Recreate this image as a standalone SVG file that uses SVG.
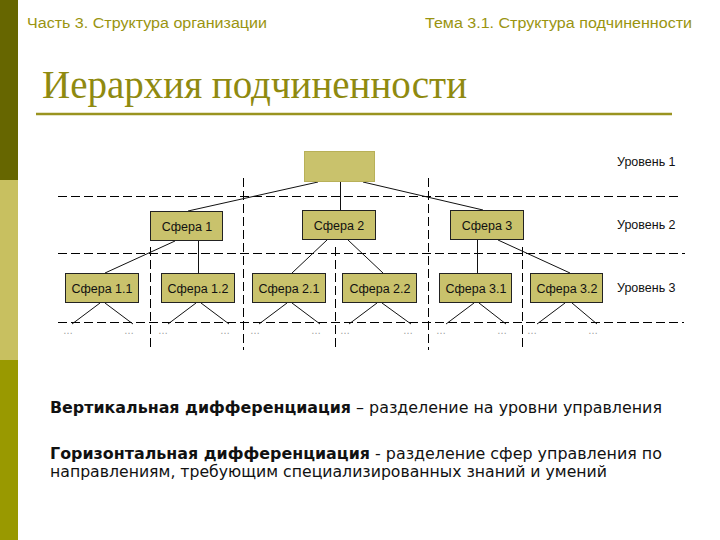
<svg xmlns="http://www.w3.org/2000/svg" width="720" height="540" viewBox="0 0 720 540">
<style>
.hdr{font-family:"Liberation Sans",Arial,sans-serif;font-size:14px;fill:#9A9410}
.ttl{font-family:"Liberation Serif","Times New Roman",serif;font-size:39px;fill:#8F8A10}
.box{fill:#C9C26C;stroke:#222;stroke-width:1}
.top{fill:#C9C26C;stroke:#B8B058;stroke-width:1}
.lbl{font-family:"Liberation Sans",Arial,sans-serif;font-size:12.5px;fill:#111;text-anchor:middle}
.lvl{font-family:"Liberation Sans",Arial,sans-serif;font-size:12.5px;fill:#111}
.dots{font-family:"Liberation Sans",Arial,sans-serif;font-size:10px;fill:#999}
.dash{stroke:#000;stroke-width:1;stroke-dasharray:9,4;fill:none}
.ln{stroke:#111;stroke-width:1;fill:none}
.txt{font-family:"DejaVu Sans",Tahoma,sans-serif;font-size:15.5px;fill:#111}
.b{font-weight:bold}
</style>
<rect x="0" y="0" width="720" height="540" fill="#fff"/>
<rect x="0" y="0" width="18" height="180" fill="#666600"/>
<rect x="0" y="180" width="18" height="180" fill="#C8C060"/>
<rect x="0" y="360" width="18" height="180" fill="#999900"/>
<text class="hdr" x="27" y="28" textLength="240" lengthAdjust="spacingAndGlyphs">Часть 3. Структура организации</text>
<text class="hdr" x="425" y="28" textLength="267" lengthAdjust="spacingAndGlyphs">Тема 3.1. Структура подчиненности</text>
<text class="ttl" x="42" y="98">Иерархия подчиненности</text>
<line x1="36" y1="114" x2="672" y2="114" stroke="#9A9420" stroke-width="2.5"/>
<g id="grid">
<line class="dash" x1="58" y1="196.5" x2="678" y2="196.5"/>
<line class="dash" x1="58" y1="253.5" x2="685" y2="253.5"/>
<line class="dash" x1="58" y1="322.5" x2="684" y2="322.5"/>
<line class="dash" x1="243.5" y1="178" x2="243.5" y2="350"/>
<line class="dash" x1="428.5" y1="178" x2="428.5" y2="350"/>
<line class="dash" x1="150.5" y1="247" x2="150.5" y2="350"/>
<line class="dash" x1="335.5" y1="247" x2="335.5" y2="350"/>
<line class="dash" x1="522.5" y1="247" x2="522.5" y2="350"/>
</g>
<g id="connectors">
<line class="ln" x1="318" y1="182" x2="188" y2="211"/>
<line class="ln" x1="340.5" y1="182" x2="340.5" y2="210"/>
<line class="ln" x1="363" y1="182" x2="483" y2="210"/>
<line class="ln" x1="175" y1="241" x2="105" y2="273"/>
<line class="ln" x1="198.5" y1="241" x2="198.5" y2="273"/>
<line class="ln" x1="327" y1="240" x2="292" y2="273"/>
<line class="ln" x1="348" y1="240" x2="383" y2="273"/>
<line class="ln" x1="477.5" y1="240" x2="477.5" y2="273"/>
<line class="ln" x1="498" y1="240" x2="570" y2="273"/>
<path class="ln" d="M100 303L72 324M105 303L133 324"/>
<path class="ln" d="M196 303L168 324M201 303L229 324"/>
<path class="ln" d="M287 303L259 324M292 303L320 324"/>
<path class="ln" d="M377 303L349 324M382 303L411 324"/>
<path class="ln" d="M474 303L446 324M479 303L506 324"/>
<path class="ln" d="M565 303L537 324M572 303L597 324"/>
</g>
<g id="top"><rect class="top" x="304.5" y="151.5" width="70" height="30"/></g>
<g id="s1"><rect class="box" x="150.5" y="211.5" width="72" height="29"/><text class="lbl" x="187" y="231">Сфера 1</text></g>
<g id="s2"><rect class="box" x="302.5" y="210.5" width="73" height="29"/><text class="lbl" x="339" y="230">Сфера 2</text></g>
<g id="s3"><rect class="box" x="450.5" y="210.5" width="73" height="29"/><text class="lbl" x="487" y="230">Сфера 3</text></g>
<g id="s11"><rect class="box" x="65.5" y="273.5" width="73" height="29"/><text class="lbl" x="102" y="293">Сфера 1.1</text></g>
<g id="s12"><rect class="box" x="161.5" y="273.5" width="73" height="29"/><text class="lbl" x="198" y="293">Сфера 1.2</text></g>
<g id="s21"><rect class="box" x="252.5" y="273.5" width="73" height="29"/><text class="lbl" x="289" y="293">Сфера 2.1</text></g>
<g id="s22"><rect class="box" x="342.5" y="273.5" width="74" height="29"/><text class="lbl" x="380" y="293">Сфера 2.2</text></g>
<g id="s31"><rect class="box" x="439.5" y="273.5" width="72" height="29"/><text class="lbl" x="476" y="293">Сфера 3.1</text></g>
<g id="s32"><rect class="box" x="530.5" y="273.5" width="72" height="29"/><text class="lbl" x="567" y="293">Сфера 3.2</text></g>
<g id="leaves">
<text class="dots" x="63" y="334">…</text><text class="dots" x="124" y="334">…</text>
<text class="dots" x="158" y="334">…</text><text class="dots" x="220" y="334">…</text>
<text class="dots" x="250" y="334">…</text><text class="dots" x="311" y="334">…</text>
<text class="dots" x="340" y="334">…</text><text class="dots" x="403" y="334">…</text>
<text class="dots" x="436" y="334">…</text><text class="dots" x="497" y="334">…</text>
<text class="dots" x="527" y="334">…</text><text class="dots" x="588" y="334">…</text>
</g>
<text class="lvl" x="617" y="166">Уровень 1</text>
<text class="lvl" x="617" y="229">Уровень 2</text>
<text class="lvl" x="617" y="292">Уровень 3</text>
<text class="txt" x="50" y="413" textLength="612" lengthAdjust="spacingAndGlyphs"><tspan class="b">Вертикальная дифференциация</tspan> – разделение на уровни управления</text>
<text class="txt" x="50" y="459" textLength="612" lengthAdjust="spacingAndGlyphs"><tspan class="b">Горизонтальная дифференциация</tspan> - разделение сфер управления по</text>
<text class="txt" x="50" y="477" textLength="557" lengthAdjust="spacingAndGlyphs">направлениям, требующим специализированных знаний и умений</text>
</svg>
